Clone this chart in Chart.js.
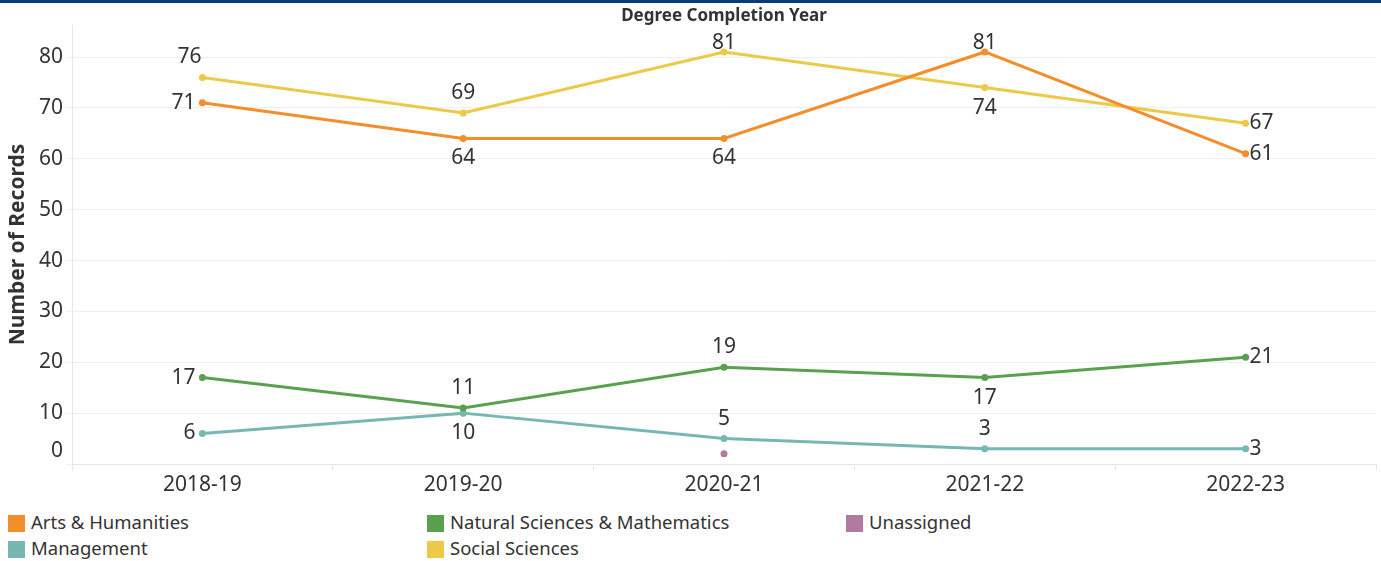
<!DOCTYPE html>
<html>
<head>
<meta charset="utf-8">
<script src="https://cdn.jsdelivr.net/npm/chart.js@4"></script>
<style>
  body { margin: 0; background: #fff; width: 1381px; height: 561px; overflow: hidden; font-family: "Noto Sans", sans-serif; }
  #topbar { position: absolute; left: 0; top: 0; width: 1381px; height: 3px; background: #0b3b7c; }
  #wrap { position: absolute; left: 0; top: 0; width: 1381px; height: 505px; }
  #legend { position: absolute; left: 0; top: 509px; width: 1381px; }
  .item { position: absolute; font-size: 18.5px; color: #333; white-space: nowrap; }
  .item span { display: inline-block; width: 17px; height: 17px; vertical-align: -3px; margin-right: 6px; }
</style>
</head>
<body>
<div id="topbar"></div>
<div id="wrap"><canvas id="myChart"></canvas></div>
<div id="legend"></div>
<script>
const years = ['2018-19', '2019-20', '2020-21', '2021-22', '2022-23'];
const artsHumanities = [71, 64, 64, 81, 61];
const socialSciences = [76, 69, 81, 74, 67];
const naturalSciences = [17, 11, 19, 17, 21];
const management = [6, 10, 5, 3, 3];
const unassigned = [null, null, 2, null, null];
const yTicks = [0, 10, 20, 30, 40, 50, 60, 70, 80];

// where each value label goes: l = left, al = above-left, a = above, b = below, r = right
const labelPos = {
    'Arts & Humanities': ['l', 'b', 'b', 'a', 'r'],
    'Social Sciences': ['al', 'a', 'a', 'b', 'r'],
    'Natural Sciences & Mathematics': ['l', 'a', 'a', 'b', 'r'],
    'Management': ['l', 'b', 'a', 'a', 'r'],
};

const colors = {
    arts: '#f28e2b',
    natural: '#59a14f',
    unassigned: '#b07aa1',
    management: '#76b7b2',
    social: '#edc948',
};

const FONT = '"Noto Sans", sans-serif';

function line(label, data, color) {
    return {
        label: label,
        data: data,
        borderColor: color,
        backgroundColor: color,
        borderWidth: 3,
        pointRadius: 3.5,
        pointHoverRadius: 3.5,
        pointBorderWidth: 0,
        tension: 0,
        spanGaps: false,
    };
}

const valueLabels = {
    id: 'valueLabels',
    afterDatasetsDraw(chart) {
        const c = chart.ctx;
        const top = chart.chartArea.top + 18;
        c.save();
        c.font = '21px ' + FONT;
        c.fillStyle = '#333';
        c.textBaseline = 'middle';
        chart.data.datasets.forEach((ds, i) => {
            const pos = labelPos[ds.label];
            if (!pos) return;
            chart.getDatasetMeta(i).data.forEach((pt, j) => {
                const v = ds.data[j];
                if (v === null) return;
                let x = pt.x, y = pt.y;
                switch (pos[j]) {
                    case 'l': c.textAlign = 'right'; x -= 7; break;
                    case 'al': c.textAlign = 'right'; x -= 1; y -= 20; break;
                    case 'r': c.textAlign = 'left'; x += 4; break;
                    case 'a': c.textAlign = 'center'; y -= 20; break;
                    case 'b': c.textAlign = 'center'; y += 20; break;
                }
                c.fillText(String(v), x, Math.max(y, top));
            });
        });
        c.restore();
    }
};

const axisText = {
    id: 'axisText',
    afterDraw(chart) {
        const c = chart.ctx;
        const ys = chart.scales.y;
        const area = chart.chartArea;
        c.save();
        c.fillStyle = '#333';
        c.font = '21px ' + FONT;
        c.textAlign = 'right';
        c.textBaseline = 'middle';
        yTicks.forEach(t => {
            let y = ys.getPixelForValue(t);
            if (t === 0) y -= 13;
            c.fillText(String(t), 63, y);
        });
        c.font = 'bold 17px ' + FONT;
        c.textAlign = 'center';
        c.fillText('Degree Completion Year', (area.left + area.right) / 2, 16);
        c.restore();
    }
};

const ctx = document.getElementById('myChart').getContext('2d');
const myChart = new Chart(ctx, {
    type: 'line',
    data: {
        labels: years,
        datasets: [
            line('Arts & Humanities', artsHumanities, colors.arts),
            line('Social Sciences', socialSciences, colors.social),
            line('Natural Sciences & Mathematics', naturalSciences, colors.natural),
            line('Management', management, colors.management),
            line('Unassigned', unassigned, colors.unassigned),
        ]
    },
    options: {
        responsive: true,
        maintainAspectRatio: false,
        animation: false,
        layout: { padding: { top: 25, right: 5, left: 0, bottom: 0 } },
        plugins: {
            legend: { display: false },
            tooltip: { enabled: false },
        },
        scales: {
            x: {
                offset: true,
                grid: { display: true, drawOnChartArea: false, offset: true, tickLength: 6, color: '#e6e6e6' },
                border: { color: '#e6e6e6' },
                ticks: { color: '#333', font: { family: FONT, size: 21 }, padding: 2, maxRotation: 0 },
                afterFit(scale) { scale.height = 41; },
            },
            y: {
                min: 0,
                max: 86.3,
                grid: { color: '#efefef', tickLength: 6 },
                border: { color: '#e6e6e6' },
                ticks: { display: false, stepSize: 10, includeBounds: false },
                title: {
                    display: true,
                    text: 'Number of Records',
                    color: '#333',
                    font: { family: FONT, size: 21, weight: 'bold' },
                    padding: { top: 5, bottom: 0 },
                },
                afterFit(scale) { scale.width = 72; },
            }
        }
    },
    plugins: [valueLabels, axisText]
});

const legendItems = [
    ['Arts & Humanities', colors.arts, 8, 0],
    ['Natural Sciences & Mathematics', colors.natural, 427, 0],
    ['Unassigned', colors.unassigned, 846, 0],
    ['Management', colors.management, 8, 26],
    ['Social Sciences', colors.social, 427, 26],
];
const legend = document.getElementById('legend');
legendItems.forEach(([name, col, x, y]) => {
    const d = document.createElement('div');
    d.className = 'item';
    d.style.left = x + 'px';
    d.style.top = y + 'px';
    d.innerHTML = '<span style="background:' + col + '"></span>' + name;
    legend.appendChild(d);
});
</script>
</body>
</html>
